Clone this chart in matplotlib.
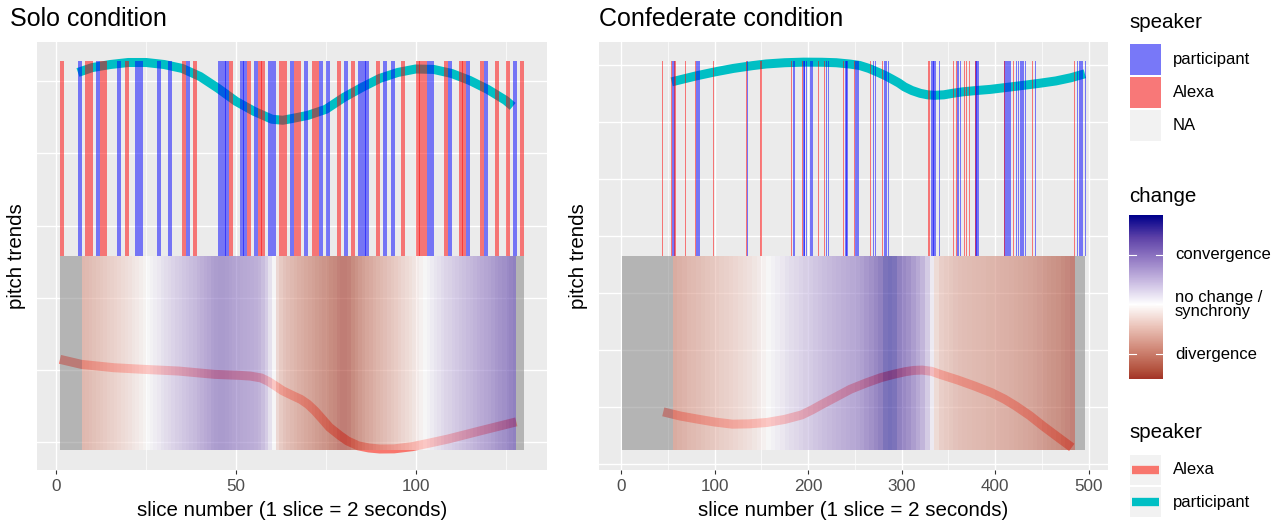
import numpy as np
import matplotlib.pyplot as plt
from matplotlib.colors import LinearSegmentedColormap, Normalize
from matplotlib.patches import Rectangle
from matplotlib.lines import Line2D

plt.rcParams['font.family'] = ['Liberation Sans', 'DejaVu Sans']

W, H = 1281, 522

# ---------------- Solo condition ----------------
solo_participant = [6, 11, 17, 22, 23, 28, 31, 36, 45, 46, 47, 51, 52, 55, 59, 60,
                    65, 69, 73, 75, 80, 84, 85, 86, 91, 93, 103, 104, 109, 114, 119, 127]
solo_alexa = [1, 8, 9, 12, 13, 19, 35, 38, 48, 53, 56, 57, 62, 63, 66, 67, 71, 72,
              78, 82, 89, 96, 100, 101, 102, 108, 112, 113, 118, 122, 125, 129]
# change per slice 1..129 (nan = no value)
solo_change = [np.nan] * 6 + [
    -0.80, -0.76, -0.72, -0.68, -0.64, -0.60, -0.56, -0.52, -0.48, -0.44,
    -0.40, -0.36, -0.32, -0.27, -0.22, -0.17, -0.12, -0.06, 0.00, 0.06,
    0.12, 0.18, 0.24, 0.30, 0.35, 0.40, 0.45, 0.50, 0.55, 0.60,
    0.65, 0.70, 0.76, 0.82, 0.88, 0.94, 1.00, 1.05, 1.08, 1.08,
    1.05, 1.02, 0.98, 0.95, 0.92, 0.90, 0.88, 0.86, 0.82, 0.76,
    0.66, 0.48, 0.25, 0.02, -0.38, -0.55, -0.65, -0.72, -0.78, -0.84,
    -0.89, -0.94, -0.99, -1.04, -1.09, -1.14, -1.19, -1.24, -1.29, -1.34,
    -1.39, -1.46, -1.50, -1.50, -1.45, -1.36, -1.27, -1.18, -1.10, -1.02,
    -0.96, -0.90, -0.84, -0.78, -0.72, -0.66, -0.60, -0.54, -0.48, -0.42,
    -0.36, -0.30, -0.23, -0.16, -0.08, 0.00, 0.07, 0.14, 0.20, 0.26,
    0.32, 0.38, 0.43, 0.48, 0.53, 0.58, 0.63, 0.68, 0.73, 0.78,
    0.83, 0.88, 0.93, 0.98, 1.04, 1.10, 1.16, 1.22, 1.28, 1.34,
    1.40] + [np.nan] * 2
solo_part_x = [6, 10, 15, 20, 25, 30, 35, 40, 45, 50, 55, 60, 63, 66, 70, 75, 80,
               85, 90, 95, 100, 105, 110, 115, 120, 125, 127]
solo_part_y = [356.0, 359.4, 361.5, 362.9, 362.9, 361.5, 358.8, 353.2, 345.0, 336.0,
               329.1, 323.6, 322.9, 324.3, 326.3, 330.5, 338.7, 345.6, 351.9, 356.0,
               358.4, 358.1, 355.3, 350.5, 344.3, 336.7, 332.5]
solo_alexa_x = [1, 7, 16, 24, 34, 44, 51, 54, 57, 59, 61, 63, 66, 68, 70, 72, 74,
                76, 79, 81, 84, 87, 90, 94, 99, 104, 109, 118, 128]
solo_alexa_y = [157.3, 153.8, 151.5, 150.4, 149.2, 146.9, 146.2, 145.7, 144.4, 142.0,
                138.8, 135.5, 131.9, 129.6, 126.2, 121.5, 115.9, 110.2, 104.3, 100.8,
                97.4, 95.9, 95.2, 95.3, 96.8, 99.4, 102.1, 107.8, 114.0]
solo_levels = (94.5, 229.0, 363.6)   # tile bottom, tile top / bar bottom, bar top
solo_ygrid = [100, 150, 200, 250, 300, 350]

# ---------------- Confederate condition ----------------
conf_participant = [54, 55, 56, 80, 81, 82, 83, 135, 184, 185, 195, 196, 198, 202,
                    203, 204, 219, 221, 239, 240, 241, 250, 251, 252, 253, 269, 272,
                    281, 282, 283, 285, 331, 333, 334, 335, 336, 340, 359, 360, 362,
                    379, 380, 381, 382, 410, 411, 412, 413, 414, 415, 416, 422, 424,
                    427, 428, 429, 430, 432, 443, 488, 490, 491, 492, 493, 496]
conf_alexa = [44, 53, 57, 68, 79, 98, 134, 149, 182, 193, 210, 217, 237, 249, 266,
              279, 328, 329, 355, 358, 367, 369, 372, 378, 409, 419, 439, 484]
conf_tile_start = list(range(55, 485, 5))
conf_change = [
    -0.95, -0.90, -0.85, -0.80, -0.76, -0.72, -0.68, -0.64, -0.60, -0.56,
    -0.52, -0.48, -0.44, -0.40, -0.36, -0.32, -0.27, -0.22, -0.16, -0.08,
    0.00, 0.06, 0.12, 0.18, 0.24, 0.30, 0.35, 0.40, 0.45, 0.50,
    0.55, 0.60, 0.65, 0.70, 0.74, 0.78, 0.82, 0.86, 0.90, 0.95,
    1.00, 1.10, 1.20, 1.30, 1.40, 1.55, 1.60, 1.55, 1.40, 1.30,
    1.20, 1.05, 0.90, 0.75, 0.50, 0.15, -0.35, -0.50, -0.55, -0.60,
    -0.65, -0.70, -0.72, -0.74, -0.76, -0.78, -0.80, -0.82, -0.84, -0.86,
    -0.88, -0.90, -0.92, -0.95, -0.98, -1.00, -1.03, -1.08, -1.12, -1.18,
    -1.22, -1.26, -1.30, -1.35, -1.40, -1.45]
conf_na = [(1, 55), (485, 496)]
conf_part_x = [54, 80, 100, 120, 140, 155, 175, 195, 215, 230, 245, 255, 265, 275,
               283, 290, 297, 303, 311, 320, 328, 335, 345, 355, 365, 380, 395, 412,
               430, 448, 465, 481, 496]
conf_part_y = [435.6, 440.8, 444.3, 447.4, 449.8, 451.3, 452.4, 452.9, 452.8, 452.4,
               451.2, 450.0, 447.4, 443.9, 440.9, 437.8, 434.6, 431.2, 428.0, 425.5,
               424.2, 423.8, 424.2, 425.6, 426.8, 428.0, 429.0, 430.7, 432.5, 434.4,
               436.4, 439.2, 442.7]
conf_alexa_x = [45, 63, 82, 100, 119, 137, 156, 175, 193, 204, 215, 230, 245, 262,
                278, 292, 304, 313, 322, 332, 341, 360, 378, 396, 410, 422, 437, 451,
                466, 482]
conf_alexa_y = [145.8, 142.2, 139.4, 136.9, 135.0, 135.3, 136.5, 139.2, 143.1, 147.5,
                152.5, 159.0, 165.6, 171.2, 175.9, 178.9, 181.1, 182.2, 182.5, 181.4,
                178.8, 173.8, 168.5, 162.7, 157.0, 151.0, 142.6, 133.5, 124.3, 114.6]
conf_levels = (112.25, 282.9, 453.5)
conf_ygrid = [100, 150, 200, 250, 300, 350, 400, 450]

change_ticks = [1, 0, -1]
change_labels = ['convergence', 'no change /\nsynchrony', 'divergence']
change_lims = (-1.5, 1.8)

# colours
BG = '#ebebeb'
ALEXA_LINE, PART_LINE = '#F8766D', '#00BFC4'
cmap = LinearSegmentedColormap.from_list('chg', [
    (0.0, '#8B0000'), (0.125, (177/255, 79/255, 59/255)), (0.25, (209/255, 137/255, 120/255)),
    (0.375, (235/255, 195/255, 185/255)), (0.5, '#ffffff'), (0.625, (203/255, 189/255, 227/255)),
    (0.75, (150/255, 126/255, 198/255)), (0.875, (94/255, 66/255, 168/255)), (1.0, '#00008B')])
norm = Normalize(-1.8, 1.8)

fig = plt.figure(figsize=(W / 100, H / 100), dpi=100)


def fx(px):
    return px / W


def fy(py):
    return 1 - py / H


def panel(rect, xlim, ylim, xmajor, xminor, ygrid):
    ax = fig.add_axes(rect)
    ax.set_facecolor(BG)
    for s in ax.spines.values():
        s.set_visible(False)
    ax.set_xlim(*xlim)
    ax.set_ylim(*ylim)
    for v in xminor:
        ax.axvline(v, color='white', lw=0.5, zorder=0)
    for v in xmajor:
        ax.axvline(v, color='white', lw=1.0, zorder=0)
    for v in ygrid:
        ax.axhline(v, color='white', lw=1.0, zorder=0)
    ax.set_xticks(xmajor)
    ax.set_yticks([])
    ax.tick_params(axis='x', length=3, width=0.8, color='#333333', labelcolor='#4d4d4d',
                   labelsize=12.3, pad=4)
    return ax


def draw(ax, part, alexa, tiles, na, levels, px, py, ax_x, ay):
    lo, mid, hi = levels
    ax.plot(px, py, color=PART_LINE, lw=6.5, solid_capstyle='butt', zorder=2)
    ax.plot(ax_x, ay, color=ALEXA_LINE, lw=6.5, solid_capstyle='butt', zorder=2)
    for s in part:
        ax.add_patch(Rectangle((s, mid), 1.1, hi - mid, facecolor='blue', alpha=0.5,
                               lw=0, zorder=3))
    for s in alexa:
        ax.add_patch(Rectangle((s, mid), 1.1, hi - mid, facecolor='red', alpha=0.5,
                               lw=0, zorder=3))
    for (x0, w, v) in tiles:
        ax.add_patch(Rectangle((x0, lo), w, mid - lo, facecolor=cmap(norm(v)), alpha=0.6,
                               lw=0, antialiased=False, zorder=3))
    for (a, b) in na:
        ax.add_patch(Rectangle((a, lo), b - a, mid - lo, facecolor='#7f7f7f', alpha=0.5,
                               lw=0, antialiased=False, zorder=3))


# left panel
axL = panel([fx(36.8), fy(469.5), fx(546.7) - fx(36.8), fy(42) - fy(469.5)],
            (-5.45, 136.45), (81.0, 377.1), [0, 50, 100], [25, 75, 125], solo_ygrid)
solo_tiles = []
solo_na = []
for i, v in enumerate(solo_change):
    s = i + 1
    if np.isnan(v):
        solo_na.append((s, s + 1))
    else:
        solo_tiles.append((s, 1, v))
draw(axL, solo_participant, solo_alexa, solo_tiles, solo_na, solo_levels,
     solo_part_x, solo_part_y, solo_alexa_x, solo_alexa_y)

# right panel
axR = panel([fx(599), fy(469.5), fx(1108) - fx(599), fy(42) - fy(469.5)],
            (-23.75, 520.75), (95.2, 470.6), [0, 100, 200, 300, 400, 500],
            [50, 150, 250, 350, 450], conf_ygrid)
conf_tiles = [(s, 5, v) for s, v in zip(conf_tile_start, conf_change)]
draw(axR, conf_participant, conf_alexa, conf_tiles, conf_na, conf_levels,
     conf_part_x, conf_part_y, conf_alexa_x, conf_alexa_y)

# titles and axis titles
fig.text(fx(10), fy(19), 'Solo condition', fontsize=18, va='center', ha='left')
fig.text(fx(599), fy(19), 'Confederate condition', fontsize=18, va='center', ha='left')
for xc in (17, 578):
    fig.text(fx(xc), fy(256), 'pitch trends', fontsize=14.8, rotation=90,
             va='center', ha='center')
for xc in (291.7, 853.5):
    fig.text(fx(xc), fy(510), 'slice number (1 slice = 2 seconds)', fontsize=14.8,
             va='center', ha='center')

# legends
KEYBG = '#f2f2f2'
fig.text(fx(1129), fy(23), 'speaker', fontsize=14.8, va='center', ha='left')
fill_keys = [('participant', 'blue'), ('Alexa', 'red'), ('NA', None)]
for i, (lab, col) in enumerate(fill_keys):
    top = 44 + i * 33
    fig.patches.append(Rectangle((fx(1129.5), fy(top + 31)), fx(31), 31 / H,
                                 transform=fig.transFigure, facecolor=KEYBG, lw=0))
    if col:
        fig.patches.append(Rectangle((fx(1129.5), fy(top + 31)), fx(31), 31 / H,
                                     transform=fig.transFigure, facecolor=col,
                                     alpha=0.5, lw=0))
    fig.text(fx(1172.5), fy(top + 15.5), lab, fontsize=12, va='center', ha='left')

fig.text(fx(1129), fy(196), 'change', fontsize=14.8, va='center', ha='left')
cax = fig.add_axes([fx(1129), fy(379), fx(34), (379 - 215) / H])
grad = np.linspace(change_lims[1], change_lims[0], 300).reshape(-1, 1)
cax.imshow(grad, cmap=cmap, norm=norm, aspect='auto',
           extent=(0, 1, change_lims[0], change_lims[1]))
cax.set_xlim(0, 1)
cax.set_ylim(*change_lims)
cax.axis('off')
for t in change_ticks:
    cax.plot([0, 0.2], [t, t], color='white', lw=0.8)
    cax.plot([0.8, 1], [t, t], color='white', lw=0.8)
for t, lab in zip(change_ticks, change_labels):
    ypix = 379 - (t - change_lims[0]) / (change_lims[1] - change_lims[0]) * 164
    fig.text(fx(1175), fy(ypix), lab, fontsize=12, va='center', ha='left',
             linespacing=0.95)

fig.text(fx(1129), fy(433), 'speaker', fontsize=14.8, va='center', ha='left')
line_keys = [('Alexa', ALEXA_LINE), ('participant', PART_LINE)]
for i, (lab, col) in enumerate(line_keys):
    top = 455 + i * 32
    fig.patches.append(Rectangle((fx(1129.5), fy(top + 30)), fx(31), 30 / H,
                                 transform=fig.transFigure, facecolor=KEYBG, lw=0))
    fig.lines.append(Line2D([fx(1132), fx(1159)], [fy(top + 15), fy(top + 15)],
                            transform=fig.transFigure, color=col, lw=6,
                            solid_capstyle='butt'))
    fig.text(fx(1172.5), fy(top + 15), lab, fontsize=12, va='center', ha='left')

fig.savefig('out.png', dpi=100)
